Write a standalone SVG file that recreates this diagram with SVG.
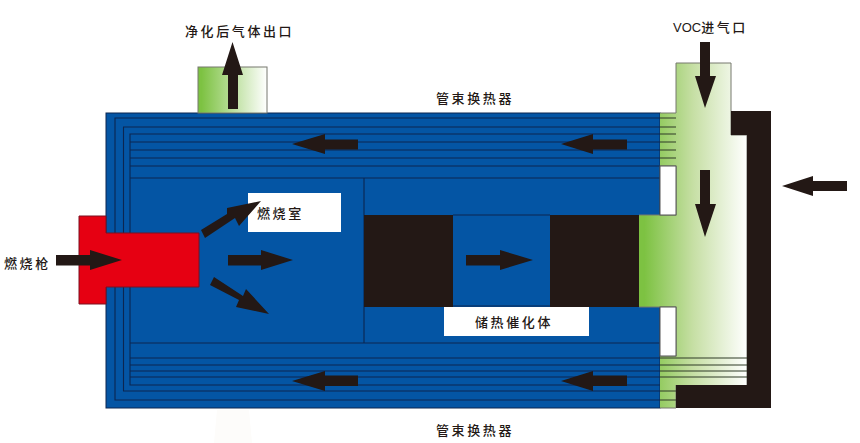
<svg xmlns="http://www.w3.org/2000/svg" width="860" height="443" viewBox="0 0 860 443">
<style>
.blue{fill:#0455a4}
.ln{stroke:#0c2650;stroke-width:1.100;fill:none}
.gl{stroke:#2f3a26;stroke-width:1.100;fill:none}
.ar{fill:#231815}
.blk{fill:#231815}
.g{fill:url(#gr)}
.ol{fill:none;stroke:#77786f;stroke-width:1}
text{font-family:"Noto Sans CJK SC","Liberation Sans",sans-serif;font-size:13px;font-weight:500;letter-spacing:2.600px;fill:#231815}
</style>
<defs>
<linearGradient id="gr" gradientUnits="userSpaceOnUse" x1="639" y1="0" x2="747" y2="0"><stop offset="0.05" stop-color="#7dc242"/><stop offset="0.5" stop-color="#c6dfa4"/><stop offset="1" stop-color="#ffffff"/></linearGradient>
<linearGradient id="gr2" gradientUnits="userSpaceOnUse" x1="198" y1="0" x2="267" y2="0"><stop offset="0.05" stop-color="#7dc242"/><stop offset="1" stop-color="#ffffff"/></linearGradient>
</defs>
<rect width="860" height="443" fill="#fff"/>
<path d="M217 410h32l3 33h-38z" fill="#fdfcfa"/>
<g id="exchanger">
<rect class="blue" x="106" y="113" width="554" height="295" stroke="#0c2650"/>
<path class="ln" d="M660 118H115V400H660M660 127H123.500V391H660M660 134H130V385H660M130 142H660M130 150H660M130 158H660M130 166H660M130 178H660M130 343H660M130 358H660M130 365H660M130 371H660M130 377H660M364 178V343"/>
</g>
<g id="outlet">
<rect x="198" y="67" width="69" height="46" fill="url(#gr2)" stroke="#77786f"/>
</g>
<g id="inlet-duct">
<path class="g" d="M639 215H676V166H660V113H676V63H731V135H747V385H676V408H660V356H676V307H639Z"/>
<path class="ol" d="M660 113H676V63H731V135H747V385M676 385V408H660M660 356H676V307H639M660 166H676V215H639"/>
<rect x="660" y="166" width="16" height="49" fill="#fff" stroke="#555" stroke-width="1"/>
<rect x="660" y="307" width="16" height="49" fill="#fff" stroke="#555" stroke-width="1"/>
<path class="gl" d="M660 118H676M660 127H676M660 134H676M660 142H676M660 150H676M660 158H676M660 358H747M660 365H747M660 371H747M660 377H747M660 391H676M660 400H676"/>
</g>
<g id="shell">
<path class="blk" d="M731 111H771V408H676V385H747V135H731Z"/>
</g>
<g id="burner">
<path d="M79 216H106V233H199V287H106V304H79Z" fill="#e60012" stroke="#7a1020"/>
</g>
<g id="catalyst">
<rect class="blk" x="364" y="215" width="89" height="92"/>
<rect class="blk" x="550" y="215" width="89" height="92"/>
<path class="ln" d="M453 215H550M453 306H550"/>
</g>
<g id="chamber-label">
<rect x="248" y="193" width="93" height="39" fill="#fff"/>
<text x="257" y="218">燃烧室</text>
</g>
<g id="catalyst-label">
<rect x="444" y="307" width="145" height="29" fill="#fff"/>
<text x="475" y="327">储热催化体</text>
</g>
<g id="burner-label"><text x="4" y="268">燃烧枪</text></g>
<g id="outlet-label"><text x="185" y="36">净化后气体出口</text></g>
<g id="inlet-label"><text x="673" y="32" letter-spacing="0"><tspan style="letter-spacing:0" font-family="Liberation Sans">VOC</tspan>进气口</text></g>
<g id="exchanger-top-label"><text x="436" y="103">管束换热器</text></g>
<g id="exchanger-bottom-label"><text x="436" y="435">管束换热器</text></g>
<g id="connectors">
<polygon class="ar" points="228,109 238,109 238,75 243,75 232.500,42 222,75 228,75"/>
<polygon class="ar" points="56,255 90,255 90,250 122,260 90,270 90,265.500 56,265.500"/>
<polygon class="ar" points="228,255 261,255 261,250 293,260 261,270 261,265.500 228,265.500"/>
<polygon class="ar" points="466,255 500,255 500,250 533,260 500,270 500,265.500 466,265.500"/>
<polygon class="ar" points="201,230 227,214 227,208 261,201 239,226 235,218 205,238"/>
<polygon class="ar" points="214,277 243,296 246,289 269,314 236,307 239,300 210,285"/>
<polygon class="ar" points="358,139.500 325,139.500 325,134 292,144 325,154 325,149.500 358,149.500"/>
<polygon class="ar" points="627,139.500 593,139.500 593,134 561,144 593,154 593,149.500 627,149.500"/>
<polygon class="ar" points="358,375.500 325,375.500 325,371 292,381 325,391 325,386 358,386"/>
<polygon class="ar" points="627,375.500 593,375.500 593,371 561,381 593,391 593,386 627,386"/>
<polygon class="ar" points="700,42 710,42 710,76 716,76 705,108 695,76 700,76"/>
<polygon class="ar" points="700,170 710,170 710,204 716,204 705,237 695,204 700,204"/>
<polygon class="ar" points="847,181 813,181 813,176 782,186 813,196 813,191 847,191"/>
</g>
</svg>
